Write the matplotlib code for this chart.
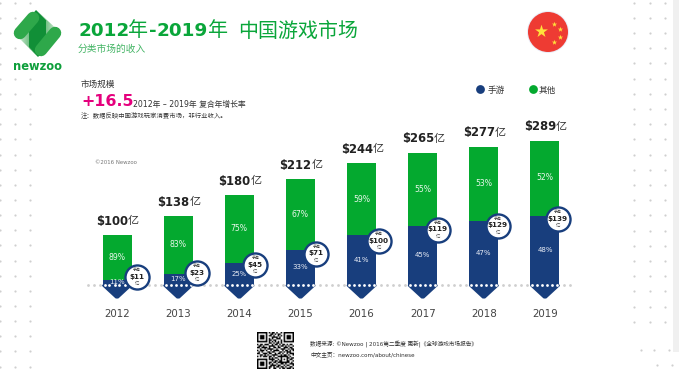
import numpy as np
import matplotlib
matplotlib.use('Agg')
import matplotlib.pyplot as plt
from matplotlib.colors import LinearSegmentedColormap
from matplotlib.patches import Circle, Polygon, Rectangle

plt.rcParams['font.family'] = ['DejaVu Sans', 'Noto Sans CJK SC']

years = [2012, 2013, 2014, 2015, 2016, 2017, 2018, 2019]
totals = [100, 138, 180, 212, 244, 265, 277, 289]
mobile = [11, 23, 45, 71, 100, 119, 129, 139]
mobile_pct = [11, 17, 25, 33, 41, 45, 47, 48]
other_pct = [89, 83, 75, 67, 59, 55, 53, 52]

# bubble placement relative to the top of the blue bar, in pixels
bubble_dx = [20, 19, 16, 16, 17, 15, 14, 13]
bubble_dy = [-3, -1, 2, 4, 6, 4, 5, 3]

GREEN = '#04a92f'
NAVY = '#183e7d'
TEXT = '#333333'
DOT = '#cfcfcf'

W, H = 679, 375
fig = plt.figure(figsize=(W / 100, H / 100), dpi=100)

# pixel layer for the page furniture
bg = fig.add_axes([0, 0, 1, 1])
bg.axis('off')

bg.add_patch(Rectangle((673, 0), 6, 352, color='#f0f0f0', lw=0))
gx, gy = np.meshgrid([0, 15, 30], np.arange(3, 372, 15.15))
bg.scatter(gx.ravel(), gy.ravel(), s=2.5, color=DOT, lw=0)
gx, gy = np.meshgrid([634, 650, 665], np.arange(2.5, 322, 15.2))
bg.scatter(gx.ravel(), gy.ravel(), s=2.5, color=DOT, lw=0)
bg.scatter([641, 654, 669, 657, 672], [350, 350, 350, 365, 365], s=2.5, color=DOT, lw=0)


def fade(points, extent, flip):
    " Gradient filled polygon, used for the logo. "
    cmap = LinearSegmentedColormap.from_list('fade', ['#1f9a3a', '#ffffff'])
    grad = np.linspace(0, 1, 64).reshape(1, -1)
    if flip:
        grad = grad[:, ::-1]
    im = bg.imshow(grad, cmap=cmap, extent=extent, aspect='auto', zorder=1)
    poly = Polygon(points, transform=bg.transData, lw=0, fc='none')
    bg.add_patch(poly)
    im.set_clip_path(poly)


bg.set_xlim(0, W)
bg.set_ylim(H, 0)

# logo
fade([(36, 10), (61, 33), (46, 48), (46, 20)], (36, 62, 50, 10), False)
fade([(38, 57), (14, 33), (29, 18), (29, 46)], (13, 39, 58, 18), True)
bg.add_patch(Polygon([(29, 18), (36, 10), (46, 20), (46, 49), (38, 57), (29, 47)], color='#118f37', lw=0, zorder=2))
bg.plot([20, 33], [33, 18], color='#2ea84a', lw=9, solid_capstyle='round', zorder=2)
bg.plot([41, 55], [50, 33], color='#2ea84a', lw=9, solid_capstyle='round', zorder=2)
bg.text(37.5, 66, 'newzoo', color='#0e9f3b', fontsize=8.3, fontweight='bold', ha='center', va='center')

# header
title_y = 31
bg.text(78, title_y, '2012', color='#0aa63a', fontsize=13.2, fontweight='bold', va='center')
bg.text(128, title_y, '年', color='#0aa63a', fontsize=14.4, va='center')
bg.text(149, title_y, '-', color='#0aa63a', fontsize=13.2, fontweight='bold', va='center')
bg.text(157, title_y, '2019', color='#0aa63a', fontsize=13.2, fontweight='bold', va='center')
bg.text(208, title_y, '年', color='#0aa63a', fontsize=14.4, va='center')
bg.text(238, title_y, '中国游戏市场', color='#0aa63a', fontsize=14.4, va='center')
bg.text(78, 49, '分类市场的收入', color='#45b566', fontsize=7, va='center')

bg.text(81, 84, '市场规模', color=TEXT, fontsize=6.2, va='center')
bg.text(81, 102, '+16.5', color='#e5007d', fontsize=11.4, fontweight='bold', va='center')
bg.text(133, 105, '2012年 – 2019年 复合年增长率', color=TEXT, fontsize=5.6, va='center')
bg.text(81, 116, '注：数据反映中国游戏玩家消费市场，非行业收入。', color=TEXT, fontsize=4.55, va='center')
bg.text(95, 163, '©2016 Newzoo', color='#777777', fontsize=3.9, va='center')

# flag
bg.add_patch(Circle((548, 32), 21, color='#e9edf8', lw=0))
bg.add_patch(Circle((548, 32), 20, color='#ee3b33', lw=0))
bg.scatter([541], [31], marker='*', s=95, color='#ffe13b', lw=0)
bg.scatter([554, 560, 560, 554], [24, 29, 37, 42], marker='*', s=16, color='#ffe13b', lw=0)

# legend
bg.scatter([480], [89], s=40, color=NAVY, lw=0)
bg.text(488, 90, '手游', color=TEXT, fontsize=6.2, va='center')
bg.scatter([533], [89], s=40, color=GREEN, lw=0)
bg.text(539, 90, '其他', color=TEXT, fontsize=6.2, va='center')

# footer + QR
qr_rows = [
    '1111111010110100101111111',
    '1000001001101011001000001',
    '1011101011010010101011101',
    '1011101000111101001011101',
    '1011101010100111001011101',
    '1000001011011000101000001',
    '1111111010101010101111111',
    '0000000011010110100000000',
    '1011011100101101011010110',
    '0110100011110010110101001',
    '1101111010011011001110110',
    '0010010111100100111001011',
    '1011101001011110010110101',
    '0101000110110001101011100',
    '1100111011001011010010111',
    '0011010100111100101101001',
    '1010111011010011111110100',
    '0000000010101100100011011',
    '1111111011110010101010110',
    '1000001000101101100011001',
    '1011101011011011111111010',
    '1011101010100100110100111',
    '1011101001111011001011001',
    '1000001011010110110100110',
    '1111111010011001011011101',
]
qr = np.array([[int(c) for c in row] for row in qr_rows])
bg.imshow(qr, cmap='gray_r', extent=(257, 294, 369, 332), interpolation='bilinear', aspect='auto', zorder=2)
bg.set_xlim(0, W)
bg.set_ylim(H, 0)
bg.text(310, 344, '数据来源: ©Newzoo | 2016第二季度 更新|《全球游戏市场报告》', color=TEXT, fontsize=4.1, va='center')
bg.text(310, 354.5, '中文主页：newzoo.com/about/chinese', color=TEXT, fontsize=4.1, va='center')

# chart axes: 61.14 px per year, 0.5 px per unit, zero at pixel row 285
left, right, top, bottom = 80, 620, 130, 302
PX_X = 61.14
PX_Y = 0.5
ax = fig.add_axes([left / W, 1 - bottom / H, (right - left) / W, (bottom - top) / H])
ax.patch.set_alpha(0)
ax.set_xlim(2012 + (left - 117) / PX_X, 2012 + (right - 117) / PX_X)
ax.set_ylim((285 - bottom) / PX_Y, (285 - top) / PX_Y)
for s in ax.spines.values():
    s.set_visible(False)
ax.set_yticks([])
ax.set_xticks(years)
ax.set_xticklabels(years, fontsize=7.4, color='#444444')
ax.tick_params(axis='x', length=0, pad=5)

bar_w = 29 / PX_X
others = [t - m for t, m in zip(totals, mobile)]
ax.bar(years, mobile, width=bar_w, color=NAVY, zorder=3)
ax.bar(years, others, bottom=mobile, width=bar_w, color=GREEN, zorder=3)

# dotted baseline
ax.scatter(np.arange(88, 574, 6.1) / PX_X + 2012 - 117 / PX_X, np.zeros(80), s=4, color=DOT, lw=0, zorder=2, clip_on=False)

for i, y in enumerate(years):
    # arrow tip under each bar
    ax.fill([y - bar_w / 2 + 0.01, y + bar_w / 2 - 0.01, y + 0.015, y - 0.015],
            [-1, -1, -25, -25], color=NAVY, lw=1.5, joinstyle='round', zorder=3)
    ax.scatter(y + np.arange(-12.5, 13, 5) / PX_X, np.zeros(6), s=4, color='white', lw=0, zorder=4)

    ax.text(y, mobile[i] / 2, f'{mobile_pct[i]}%', color='#e8ecf5', fontsize=5, ha='center', va='center', zorder=5)
    ax.text(y, mobile[i] + others[i] / 2, f'{other_pct[i]}%', color='#e8f6ea', fontsize=5.6, ha='center', va='center', zorder=5)

    ax.annotate(f'${totals[i]}', (y, totals[i]), xytext=(8, 10), textcoords='offset points',
                fontsize=8.4, fontweight='bold', color='#222222', ha='right', va='center', annotation_clip=False)
    ax.annotate('亿', (y, totals[i]), xytext=(8, 10), textcoords='offset points',
                fontsize=8, color='#333333', ha='left', va='center', annotation_clip=False)

    bx = y + bubble_dx[i] / PX_X
    by = mobile[i] - bubble_dy[i] / PX_Y
    ax.scatter([bx], [by], s=300, color='white', edgecolor=NAVY, lw=1.7, zorder=6, clip_on=False)
    ax.annotate('手游', (bx, by), xytext=(0, 5), textcoords='offset points', fontsize=2.8, color='#333333',
                ha='center', va='center', zorder=7)
    ax.annotate(f'${mobile[i]}', (bx, by), xytext=(0, 0), textcoords='offset points', fontsize=5.2, fontweight='bold',
                color='#222222', ha='center', va='center', zorder=7)
    ax.annotate('亿', (bx, by), xytext=(0, -5), textcoords='offset points', fontsize=3.2, color='#444444',
                ha='center', va='center', zorder=7)

fig.savefig('out.png', dpi=100)
